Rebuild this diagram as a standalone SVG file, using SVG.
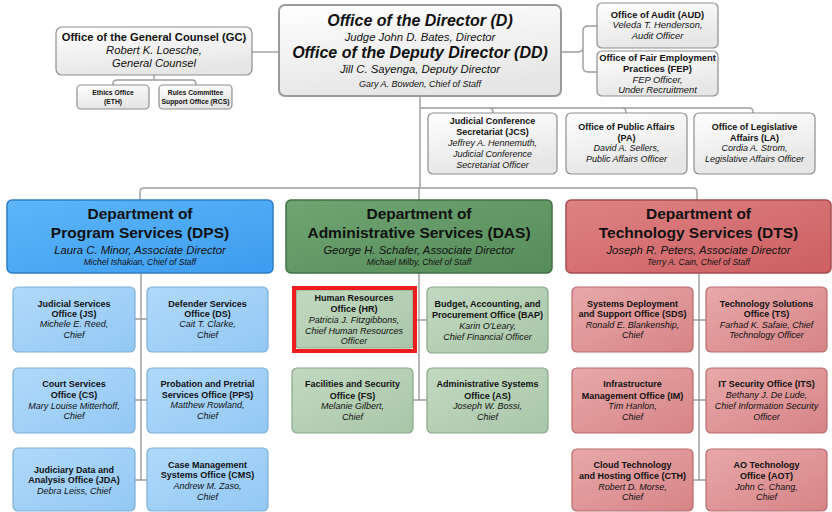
<svg xmlns="http://www.w3.org/2000/svg" width="832" height="512" viewBox="0 0 832 512">
<defs>
<linearGradient id="gw" x1="0" y1="0" x2="0.3" y2="1"><stop offset="0" stop-color="#ffffff"/><stop offset="1" stop-color="#e6e6e6"/></linearGradient>
<linearGradient id="gbh" x1="0" y1="0" x2="1" y2="1"><stop offset="0" stop-color="#5cb6f8"/><stop offset="1" stop-color="#3d9cef"/></linearGradient>
<linearGradient id="gbc" x1="0" y1="0" x2="1" y2="1"><stop offset="0" stop-color="#b0d9fb"/><stop offset="1" stop-color="#93c8f4"/></linearGradient>
<linearGradient id="ggh" x1="0" y1="0" x2="1" y2="1"><stop offset="0" stop-color="#6ea571"/><stop offset="1" stop-color="#568c59"/></linearGradient>
<linearGradient id="ggc" x1="0" y1="0" x2="1" y2="1"><stop offset="0" stop-color="#c2d9c1"/><stop offset="1" stop-color="#a9c6a9"/></linearGradient>
<linearGradient id="grh" x1="0" y1="0" x2="1" y2="1"><stop offset="0" stop-color="#de8283"/><stop offset="1" stop-color="#cc5f61"/></linearGradient>
<linearGradient id="grc" x1="0" y1="0" x2="1" y2="1"><stop offset="0" stop-color="#e8a8a9"/><stop offset="1" stop-color="#d68486"/></linearGradient>
</defs>
<style>
text{font-family:"Liberation Sans",Arial,sans-serif;fill:#111;text-anchor:middle}
.b{font-weight:bold}
.i{font-style:italic}
.conn{fill:none;stroke:#9c9c9c;stroke-width:1.4}
.wb{fill:url(#gw);stroke:#8e8e8e;stroke-width:1.2}
.bh{fill:url(#gbh);stroke:#2c7dc6;stroke-width:1.5}
.bc{fill:url(#gbc);stroke:#7fb0d8;stroke-width:1.2}
.gh{fill:url(#ggh);stroke:#416f44;stroke-width:1.5}
.gc{fill:url(#ggc);stroke:#88a888;stroke-width:1.2}
.rh{fill:url(#grh);stroke:#a64b4d;stroke-width:1.5}
.rc{fill:url(#grc);stroke:#b86a6c;stroke-width:1.2}
.s9{font-size:9px}
.s94{font-size:9.4px}
.s7{font-size:6.8px}
.dt{font-size:15.5px;font-weight:bold}
.da{font-size:11.3px;font-style:italic}
.dc{font-size:8.5px;font-style:italic}
</style>

<g id="connectors">
<path class="conn" d="M252 52 H279"/>
<path class="conn" d="M154 75 V80 M113 85 V84 Q113 80 117 80 H192 Q196 80 196 84 V85"/>
<path class="conn" d="M561 52 H578 Q583 52 583 47 V31 Q583 26 588 26 H597 M583 47 V67 Q583 72 588 72 H597"/>
<path class="conn" d="M420 96 V188 M420 108 H489 Q493 108 493 112 V113 M489 108 H622 Q626 108 626 112 V113 M622 108 H749 Q753 108 753 112 V113"/>
<path class="conn" d="M140 200 V192 Q140 188 144 188 H693 Q697 188 697 192 V200 M419 188 V200"/>
<path class="conn" d="M141 273 V480 M135 319 H147 M135 400 H147 M135 480 H147"/>
<path class="conn" d="M419 273 V400 M415 320 H427 M413 400 H427"/>
<path class="conn" d="M699 273 V480 M693 320 H706 M693 400 H706 M693 480 H706"/>
</g>

<g id="gc">
<rect class="wb" x="56" y="27" width="196" height="48" rx="6"/>
<text class="b" x="154" y="41" font-size="11.2">Office of the General Counsel (GC)</text>
<text class="i" x="154" y="54" font-size="11.2">Robert K. Loesche,</text>
<text class="i" x="154" y="67" font-size="11.2">General Counsel</text>
</g>
<g id="eth">
<rect class="wb" x="77" y="85" width="72" height="24" rx="4"/>
<text class="b s7" x="113" y="95">Ethics Office</text>
<text class="b s7" x="113" y="104">(ETH)</text>
</g>
<g id="rcs">
<rect class="wb" x="159" y="85" width="73" height="24" rx="4"/>
<text class="b s7" x="195.5" y="95">Rules Committee</text>
<text class="b s7" x="195.5" y="104">Support Office (RCS)</text>
</g>

<g id="director">
<rect x="279" y="5" width="282" height="91" rx="6" fill="url(#gw)" stroke="#9a9a9a" stroke-width="2"/>
<text class="b i" x="420" y="26" font-size="16">Office of the Director (D)</text>
<text class="i" x="420" y="41" font-size="11.3">Judge John D. Bates, Director</text>
<text class="b i" x="420" y="58" font-size="16">Office of the Deputy Director (DD)</text>
<text class="i" x="420" y="73" font-size="11.3">Jill C. Sayenga, Deputy Director</text>
<text class="i" x="420" y="87" font-size="9">Gary A. Bowden, Chief of Staff</text>
</g>

<g id="aud">
<rect class="wb" x="597" y="3" width="121" height="45" rx="5"/>
<text class="b s94" x="657.5" y="18">Office of Audit (AUD)</text>
<text class="i s94" x="657.5" y="28">Veleda T. Henderson,</text>
<text class="i s94" x="657.5" y="39">Audit Officer</text>
</g>
<g id="fep">
<rect class="wb" x="597" y="51" width="121" height="45" rx="5"/>
<text class="b s94" x="657.5" y="61">Office of Fair Employment</text>
<text class="b s94" x="657.5" y="72">Practices (FEP)</text>
<text class="i s94" x="657.5" y="83">FEP Officer,</text>
<text class="i s94" x="657.5" y="93">Under Recruitment</text>
</g>

<g id="jcs">
<rect class="wb" x="428" y="113" width="129" height="61" rx="5"/>
<text class="b s9" x="492.5" y="124">Judicial Conference</text>
<text class="b s9" x="492.5" y="135">Secretariat (JCS)</text>
<text class="i s9" x="492.5" y="146">Jeffrey A. Hennemuth,</text>
<text class="i s9" x="492.5" y="157">Judicial Conference</text>
<text class="i s9" x="492.5" y="168">Secretariat Officer</text>
</g>
<g id="pa">
<rect class="wb" x="566" y="113" width="121" height="61" rx="5"/>
<text class="b s9" x="626.5" y="130">Office of Public Affairs</text>
<text class="b s9" x="626.5" y="141">(PA)</text>
<text class="i s9" x="626.5" y="151">David A. Sellers,</text>
<text class="i s9" x="626.5" y="162">Public Affairs Officer</text>
</g>
<g id="la">
<rect class="wb" x="694" y="113" width="121" height="61" rx="5"/>
<text class="b s9" x="754.5" y="130">Office of Legislative</text>
<text class="b s9" x="754.5" y="141">Affairs (LA)</text>
<text class="i s9" x="754.5" y="151">Cordia A. Strom,</text>
<text class="i s9" x="754.5" y="162">Legislative Affairs Officer</text>
</g>

<g id="dps">
<rect class="bh" x="7" y="200" width="266" height="73" rx="5"/>
<text class="dt" x="140" y="219">Department of</text>
<text class="dt" x="140" y="238">Program Services (DPS)</text>
<text class="da" x="140" y="254">Laura C. Minor, Associate Director</text>
<text class="dc" x="140" y="265">Michel Ishakian, Chief of Staff</text>
</g>
<g id="das">
<rect class="gh" x="286" y="200" width="266" height="73" rx="5"/>
<text class="dt" x="419" y="219">Department of</text>
<text class="dt" x="419" y="238">Administrative Services (DAS)</text>
<text class="da" x="419" y="254">George H. Schafer, Associate Director</text>
<text class="dc" x="419" y="265">Michael Milby, Chief of Staff</text>
</g>
<g id="dts">
<rect class="rh" x="566" y="200" width="265" height="73" rx="5"/>
<text class="dt" x="698.5" y="219">Department of</text>
<text class="dt" x="698.5" y="238">Technology Services (DTS)</text>
<text class="da" x="698.5" y="254">Joseph R. Peters, Associate Director</text>
<text class="dc" x="698.5" y="265">Terry A. Cain, Chief of Staff</text>
</g>

<g id="js">
<rect class="bc" x="13" y="287" width="122" height="65" rx="5"/>
<text class="b s9" x="74" y="307">Judicial Services</text>
<text class="b s9" x="74" y="317">Office (JS)</text>
<text class="i s9" x="74" y="327">Michele E. Reed,</text>
<text class="i s9" x="74" y="338">Chief</text>
</g>
<g id="ds">
<rect class="bc" x="147" y="287" width="121" height="65" rx="5"/>
<text class="b s9" x="207.5" y="307">Defender Services</text>
<text class="b s9" x="207.5" y="317">Office (DS)</text>
<text class="i s9" x="207.5" y="327">Cait T. Clarke,</text>
<text class="i s9" x="207.5" y="338">Chief</text>
</g>
<g id="cs">
<rect class="bc" x="13" y="368" width="122" height="65" rx="5"/>
<text class="b s9" x="74" y="387">Court Services</text>
<text class="b s9" x="74" y="398">Office (CS)</text>
<text class="i s9" x="74" y="409">Mary Louise Mitterhoff,</text>
<text class="i s9" x="74" y="419">Chief</text>
</g>
<g id="pps">
<rect class="bc" x="147" y="368" width="121" height="65" rx="5"/>
<text class="b s9" x="207.5" y="387">Probation and Pretrial</text>
<text class="b s9" x="207.5" y="398">Services Office (PPS)</text>
<text class="i s9" x="207.5" y="408">Matthew Rowland,</text>
<text class="i s9" x="207.5" y="419">Chief</text>
</g>
<g id="jda">
<rect class="bc" x="13" y="448" width="122" height="63" rx="5"/>
<text class="b s9" x="74" y="473">Judiciary Data and</text>
<text class="b s9" x="74" y="483">Analysis Office (JDA)</text>
<text class="i s9" x="74" y="494">Debra Leiss, Chief</text>
</g>
<g id="cms">
<rect class="bc" x="147" y="448" width="121" height="63" rx="5"/>
<text class="b s9" x="207.5" y="468">Case Management</text>
<text class="b s9" x="207.5" y="478">Systems Office (CMS)</text>
<text class="i s9" x="207.5" y="489">Andrew M. Zaso,</text>
<text class="i s9" x="207.5" y="500">Chief</text>
</g>

<g id="hr">
<rect class="gc" x="296" y="290" width="117" height="58" rx="3"/>
<rect x="294" y="288" width="121" height="63" fill="none" stroke="#ee1c1c" stroke-width="4"/>
<text class="b s9" x="354" y="301">Human Resources</text>
<text class="b s9" x="354" y="312">Office (HR)</text>
<text class="i s9" x="354" y="323">Patricia J. Fitzgibbons,</text>
<text class="i s9" x="354" y="334">Chief Human Resources</text>
<text class="i s9" x="354" y="344">Officer</text>
</g>
<g id="bap">
<rect class="gc" x="427" y="287" width="121" height="66" rx="5"/>
<text class="b s9" x="487.5" y="307">Budget, Accounting, and</text>
<text class="b s9" x="487.5" y="318">Procurement Office (BAP)</text>
<text class="i s9" x="487.5" y="329">Karin O'Leary,</text>
<text class="i s9" x="487.5" y="340">Chief Financial Officer</text>
</g>
<g id="fs">
<rect class="gc" x="292" y="368" width="121" height="65" rx="5"/>
<text class="b s9" x="352.5" y="387">Facilities and Security</text>
<text class="b s9" x="352.5" y="399">Office (FS)</text>
<text class="i s9" x="352.5" y="409">Melanie Gilbert,</text>
<text class="i s9" x="352.5" y="420">Chief</text>
</g>
<g id="as">
<rect class="gc" x="427" y="368" width="121" height="65" rx="5"/>
<text class="b s9" x="487.5" y="387">Administrative Systems</text>
<text class="b s9" x="487.5" y="399">Office (AS)</text>
<text class="i s9" x="487.5" y="409">Joseph W. Bossi,</text>
<text class="i s9" x="487.5" y="420">Chief</text>
</g>

<g id="sds">
<rect class="rc" x="572" y="287" width="121" height="65" rx="5"/>
<text class="b s9" x="632.5" y="307">Systems Deployment</text>
<text class="b s9" x="632.5" y="317">and Support Office (SDS)</text>
<text class="i s9" x="632.5" y="328">Ronald E. Blankenship,</text>
<text class="i s9" x="632.5" y="338">Chief</text>
</g>
<g id="ts">
<rect class="rc" x="706" y="287" width="121" height="65" rx="5"/>
<text class="b s9" x="766.5" y="307">Technology Solutions</text>
<text class="b s9" x="766.5" y="317">Office (TS)</text>
<text class="i s9" x="766.5" y="328">Farhad K. Safaie, Chief</text>
<text class="i s9" x="766.5" y="338">Technology Officer</text>
</g>
<g id="im">
<rect class="rc" x="572" y="368" width="121" height="65" rx="5"/>
<text class="b s9" x="632.5" y="387">Infrastructure</text>
<text class="b s9" x="632.5" y="399">Management Office (IM)</text>
<text class="i s9" x="632.5" y="409">Tim Hanlon,</text>
<text class="i s9" x="632.5" y="420">Chief</text>
</g>
<g id="its">
<rect class="rc" x="706" y="368" width="121" height="65" rx="5"/>
<text class="b s9" x="766.5" y="387">IT Security Office (ITS)</text>
<text class="i s9" x="766.5" y="398">Bethany J. De Lude,</text>
<text class="i s9" x="766.5" y="409">Chief Information Security</text>
<text class="i s9" x="766.5" y="420">Officer</text>
</g>
<g id="cth">
<rect class="rc" x="572" y="449" width="121" height="62" rx="5"/>
<text class="b s9" x="632.5" y="468">Cloud Technology</text>
<text class="b s9" x="632.5" y="479">and Hosting Office (CTH)</text>
<text class="i s9" x="632.5" y="490">Robert D. Morse,</text>
<text class="i s9" x="632.5" y="500">Chief</text>
</g>
<g id="aot">
<rect class="rc" x="706" y="449" width="121" height="62" rx="5"/>
<text class="b s9" x="766.5" y="468">AO Technology</text>
<text class="b s9" x="766.5" y="479">Office (AOT)</text>
<text class="i s9" x="766.5" y="490">John C. Chang,</text>
<text class="i s9" x="766.5" y="500">Chief</text>
</g>
</svg>
